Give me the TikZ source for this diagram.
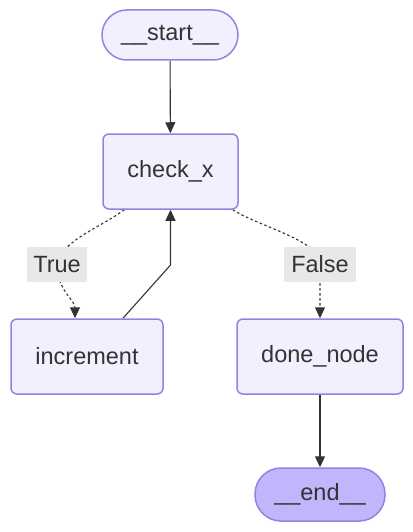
\documentclass[tikz,border=0pt]{standalone}
\usepackage{fontspec}
\setmainfont{Liberation Sans}
\usetikzlibrary{arrows.meta,backgrounds}
\definecolor{nodefill}{HTML}{F2F0FF}
\definecolor{nodeline}{HTML}{9B7FE0}
\definecolor{endfill}{HTML}{BFB6FC}
\definecolor{edgecol}{HTML}{333333}
\definecolor{lblfill}{HTML}{E8E8E8}
\begin{document}
\begin{tikzpicture}[x=1pt,y=-1pt,
  every node/.style={font=\fontsize{23.5}{28}\selectfont, text=edgecol},
  box/.style={draw=nodeline, fill=nodefill, line width=1.5pt, rounded corners=6pt,
    minimum height=75pt, inner sep=0pt},
  pill/.style={draw=nodeline, line width=1.5pt, inner sep=0pt},
  lbl/.style={fill=lblfill, inner sep=0pt, minimum height=35pt},
  solidedge/.style={draw=edgecol, line width=1.1pt, -{Triangle[width=10pt,length=11pt]}},
  dotedge/.style={draw=edgecol, line width=1.1pt, dash pattern=on 2.5pt off 2.5pt,
    -{Triangle[width=10pt,length=11pt]}}]
\useasboundingbox (0,0) rectangle (412,532);
\node[pill, fill=nodefill, rounded corners=25pt, minimum width=136pt, minimum height=50pt] (start) at (170,35) {\_\_start\_\_};
\node[box, minimum width=135pt] (chk) at (170.5,171.5) {check\_x};
\node[box, minimum width=152pt] (inc) at (87,356.5) {increment};
\node[box, minimum width=166pt] (dn) at (320,356.5) {done\_node};
\node[pill, fill=endfill, rounded corners=26pt, minimum width=130pt, minimum height=53pt] (end) at (320,494.5) {\_\_end\_\_};
\node[lbl, minimum width=60pt] (tl) at (57,264.5) {True};
\node[lbl, minimum width=72pt] (fl) at (320,264.5) {False};
\coordinate (bend) at (170.5,265);
\begin{pgfonlayer}{background}
\draw[solidedge] (start) -- (chk);
\draw[dotedge] ([xshift=22pt]chk.south west) .. controls (100,228) and (62,240) .. (tl.center) .. controls (57,290) and (75,300) .. ([xshift=-12pt]inc.north);
\draw[dotedge] ([xshift=-6pt]chk.south east) .. controls (262,228) and (320,240) .. (fl.center) -- (dn.north);
\draw[solidedge] ([xshift=36pt]inc.north) -- (bend) -- (chk.south);
\draw[solidedge] (dn) -- (end);
\end{pgfonlayer}
\end{tikzpicture}
\end{document}
